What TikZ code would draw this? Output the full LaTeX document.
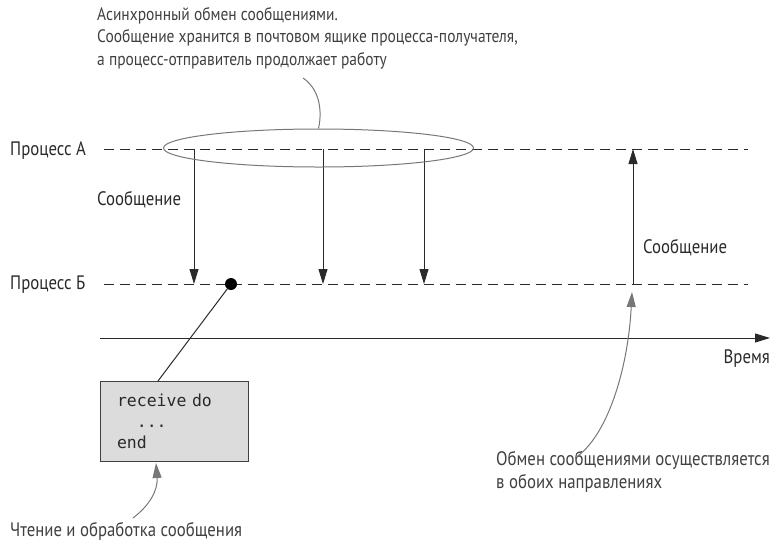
\documentclass[tikz,border=0pt]{standalone}
\usepackage{fontspec}
\setmainfont{PT Sans}[FakeStretch=0.86]
\setmonofont{DejaVu Sans Mono}
\usetikzlibrary{arrows.meta,shapes.geometric}
\definecolor{ink}{HTML}{2A2A2A}
\definecolor{note}{HTML}{404040}
\definecolor{guide}{HTML}{777777}
\definecolor{boxfill}{HTML}{DCDCDC}
\tikzset{
  lbl/.style={font=\fontsize{19.5}{22}\selectfont, text=ink, inner sep=0pt, anchor=west},
  annot/.style={font=\fontsize{19.5}{23}\selectfont, text=note, inner sep=0pt, anchor=west, align=left},
  topnote/.style={font=\fontsize{18}{22.5}\selectfont, text=note, inner sep=0pt, align=left},
  timeline/.style={draw=ink, line width=0.9pt, dash pattern=on 10pt off 6pt},
  msg/.style={draw=ink, line width=1pt, -{Triangle[length=15pt,width=9pt]}},
  pointer/.style={draw=guide, line width=1pt, -{Triangle[length=15pt,width=9pt]}},
  leader/.style={draw=guide, line width=1pt},
  codebox/.style={draw=note, fill=boxfill, line width=1pt, minimum width=148pt, minimum height=80pt,
    text width=114pt, align=left, inner sep=0pt, font=\ttfamily\fontsize{16.5}{21}\selectfont, text=ink}
}
\begin{document}
\begin{tikzpicture}[x=1pt,y=-1pt]
\useasboundingbox (0,0) rectangle (774,547);

% Process labels and their timelines
\node[lbl] (procA) at (10,151) {Процесс А};
\node[lbl] (procB) at (10,285) {Процесс Б};
\coordinate (aStart) at (104,149);
\coordinate (aEnd) at (748,149);
\coordinate (bStart) at (104,284);
\coordinate (bEnd) at (748,284);
\draw[timeline] (aStart) -- (aEnd);
\draw[timeline] (bStart) -- (bEnd);

% Time axis
\coordinate (tStart) at (100,338);
\coordinate (tEnd) at (770,338);
\draw[msg] (tStart) -- (tEnd);
\node[lbl, anchor=east] (time) at (770,359) {Время};

% Messages from A to B
\coordinate (a1) at (194,149); \coordinate (b1) at (194,284);
\coordinate (a2) at (323,149); \coordinate (b2) at (323,284);
\coordinate (a3) at (424,149); \coordinate (b3) at (424,284);
\draw[msg] (a1) -- (b1);
\draw[msg] (a2) -- (b2);
\draw[msg] (a3) -- (b3);
\node[lbl] (msgLeft) at (97,200) {Сообщение};

% Message from B to A
\coordinate (b4) at (633,284); \coordinate (a4) at (633,149);
\draw[msg] (b4) -- (a4);
\node[lbl] (msgRight) at (643,248) {Сообщение};

% Asynchronous sends grouped by an ellipse
\node[draw=guide, line width=1pt, ellipse, minimum width=310pt, minimum height=38pt, inner sep=0pt] (group) at (318.5,148) {};
\node[topnote, anchor=north west] (asyncNote) at (97,7) {Асинхронный обмен сообщениями.\\Сообщение хранится в почтовом ящике процесса-получателя,\\а процесс-отправитель продолжает работу};
\coordinate (asyncTail) at (303,78);
\draw[leader] (asyncTail) .. controls (318,88) and (323,108) .. (group.north);

% Receive point and the code that handles it
\node[circle, fill=black, inner sep=0pt, minimum size=12pt] (recv) at (231,284) {};
\node[codebox] (code) at (174,421) {receive do\\\hphantom{re}...\\end};
\draw[draw=ink, line width=1pt] (recv) -- (158,381);

% Annotation below the code box
\node[annot] (readNote) at (10,531) {Чтение и обработка сообщения};
\coordinate (readTail) at (133,518);
\coordinate (readTip) at (156,463);
\draw[pointer] (readTail) .. controls (150,505) and (158,490) .. (readTip);

% Annotation for two-way exchange
\node[annot, anchor=north west] (bothNote) at (496,451) {Обмен сообщениями осуществляется\\в обоих направлениях};
\coordinate (bothTail) at (575,458);
\coordinate (bothTip) at (632,292);
\draw[pointer] (bothTail) .. controls (607,437) and (628,370) .. (bothTip);
\end{tikzpicture}
\end{document}
